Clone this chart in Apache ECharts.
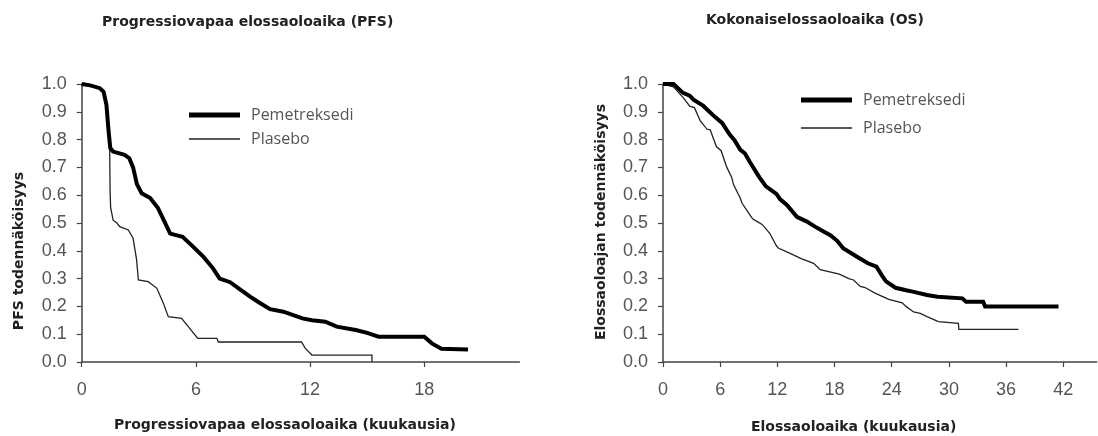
<!DOCTYPE html>
<html>
<head>
<meta charset="utf-8">
<script src="https://cdn.jsdelivr.net/npm/echarts@6/dist/echarts.min.js"></script>
<style>html,body{margin:0;padding:0;background:#fff;}#c{width:1098px;height:436px;}</style>
</head>
<body>
<div id="c"></div>
<script>
// ---- Data (months, survival probability) ----
const pfsPemetreksedi = [[0,1.0],[0.45,0.995],[0.95,0.985],[1.15,0.972],[1.3,0.925],[1.4,0.84],[1.5,0.77],[1.65,0.757],[2.25,0.745],[2.5,0.733],[2.7,0.70],[2.9,0.64],[3.15,0.607],[3.6,0.59],[4.0,0.555],[4.35,0.505],[4.65,0.462],[5.3,0.45],[5.85,0.415],[6.4,0.378],[6.9,0.337],[7.25,0.30],[7.8,0.287],[8.3,0.262],[8.85,0.235],[9.3,0.215],[9.9,0.19],[10.6,0.181],[11.6,0.157],[12.1,0.150],[12.8,0.145],[13.4,0.127],[14.4,0.115],[15.0,0.105],[15.6,0.091],[18.0,0.091],[18.4,0.067],[18.9,0.048],[20.3,0.045]];
const pfsPlasebo = [[0,1.0],[0.45,0.995],[0.95,0.985],[1.15,0.972],[1.3,0.925],[1.4,0.84],[1.47,0.77],[1.49,0.62],[1.52,0.556],[1.65,0.51],[1.85,0.50],[2.0,0.487],[2.45,0.475],[2.7,0.445],[2.88,0.37],[2.98,0.295],[3.5,0.289],[3.95,0.265],[4.3,0.21],[4.55,0.163],[5.25,0.157],[5.6,0.127],[6.1,0.085],[7.1,0.085],[7.18,0.072],[11.55,0.072],[11.75,0.049],[12.1,0.025],[15.25,0.025],[15.25,0.0]];
const osPemetreksedi = [[0,1.0],[1.1,1.0],[2.1,0.968],[2.8,0.958],[3.2,0.944],[4.2,0.922],[5.5,0.88],[6.2,0.86],[7.0,0.818],[7.5,0.798],[8.1,0.764],[8.6,0.75],[9.1,0.72],[10.1,0.665],[10.8,0.632],[11.9,0.605],[12.3,0.585],[13.0,0.565],[14.05,0.522],[15.1,0.505],[15.95,0.487],[16.8,0.47],[17.6,0.455],[18.3,0.435],[18.9,0.409],[20.4,0.378],[21.5,0.355],[22.4,0.343],[23.0,0.31],[23.4,0.29],[24.4,0.267],[25.5,0.258],[26.2,0.253],[27.7,0.241],[28.8,0.235],[31.4,0.229],[31.8,0.217],[33.6,0.217],[33.8,0.2],[41.5,0.2]];
const osPlasebo = [[0,1.0],[1.1,0.99],[2.1,0.952],[2.8,0.92],[3.3,0.915],[3.9,0.868],[4.6,0.838],[4.95,0.835],[5.6,0.775],[6.1,0.76],[6.7,0.70],[7.2,0.665],[7.4,0.638],[8.1,0.59],[8.3,0.571],[9.1,0.53],[9.4,0.515],[9.85,0.506],[10.4,0.495],[11.2,0.463],[11.9,0.418],[12.1,0.41],[13.4,0.39],[14.5,0.372],[15.8,0.355],[16.5,0.332],[18.5,0.316],[19.5,0.30],[20.0,0.295],[20.7,0.272],[21.2,0.268],[22.3,0.247],[23.7,0.225],[25.1,0.213],[25.5,0.2],[26.3,0.18],[27.0,0.175],[27.7,0.163],[28.9,0.145],[31.0,0.139],[31.05,0.117],[37.3,0.117]];

const pfsTicks = [0, 6, 12, 18];
const osTicks = [0, 6, 12, 18, 24, 30, 36, 42];
const seriesNames = ['Pemetreksedi', 'Plasebo'];
const titles = ['Progressiovapaa elossaoloaika (PFS)', 'Kokonaiselossaoloaika (OS)'];
const xNames = ['Progressiovapaa elossaoloaika (kuukausia)', 'Elossaoloaika (kuukausia)'];
const yNames = ['PFS todennäköisyys', 'Elossaoloajan todennäköisyys'];

// ---- Styling ----
const axisColor = '#444';
const labelStyle = {color: '#555', fontFamily: 'Liberation Sans', fontSize: 18};
const titleFont = {fontFamily: 'DejaVu Sans', fontWeight: 'bold', fontSize: 14, fill: '#222'};

function xAxis(gi, max, ticks) {
  return {
    type: 'value', gridIndex: gi, min: 0, max: max,
    splitLine: {show: false},
    axisLine: {lineStyle: {color: axisColor, width: 1.5}},
    axisTick: {length: 5, lineStyle: {color: axisColor, width: 1.2}, customValues: ticks},
    axisLabel: Object.assign({margin: 19, customValues: ticks}, labelStyle)
  };
}
function yAxis(gi) {
  return {
    type: 'value', gridIndex: gi, min: 0, max: 1, interval: 0.1,
    splitLine: {show: false},
    axisLine: {show: true, lineStyle: {color: axisColor, width: 1.5}},
    axisTick: {show: true, length: 5, lineStyle: {color: axisColor, width: 1.2}},
    axisLabel: Object.assign({margin: 15, formatter: v => v.toFixed(1)}, labelStyle)
  };
}
function line(name, data, gi, thick) {
  return {
    name: name, type: 'line', xAxisIndex: gi, yAxisIndex: gi, data: data,
    symbol: 'none', silent: true,
    lineStyle: {color: thick ? '#000' : '#222', width: thick ? 4 : 1.3, join: 'miter'},
    itemStyle: {color: thick ? '#000' : '#222'}
  };
}
function legend(left, top, gap) {
  return {
    left: left, top: top, orient: 'vertical', itemWidth: 51, itemHeight: 14, itemGap: gap,
    selectedMode: false, symbolKeepAspect: true,
    textStyle: {fontFamily: 'Open Sans', fontSize: 16, color: '#555', padding: [0, 0, 0, 6]},
    data: [
      {name: seriesNames[0], icon: 'path://M0,0H51V5H0Z', itemStyle: {color: '#000'}},
      {name: seriesNames[1], icon: 'path://M0,0H51V1.4H0Z', itemStyle: {color: '#222'}}
    ]
  };
}

const chart = echarts.init(document.getElementById('c'), null, {renderer: 'canvas'});
chart.setOption({
  animation: false,
  backgroundColor: '#fff',
  grid: [
    {left: 81.7, top: 84, width: 437.7, height: 278},
    {left: 663, top: 84, width: 433.6, height: 278}
  ],
  xAxis: [xAxis(0, 23, pfsTicks), xAxis(1, 45.5, osTicks)],
  yAxis: [yAxis(0), yAxis(1)],
  legend: [legend(184, 102, 8), legend(796, 87, 12)],
  series: [
    line(seriesNames[1], pfsPlasebo, 0, false),
    line(seriesNames[0], pfsPemetreksedi, 0, true),
    line(seriesNames[1], osPlasebo, 1, false),
    line(seriesNames[0], osPemetreksedi, 1, true)
  ],
  graphic: [
    {type: 'text', x: 247.7, y: 22, style: Object.assign({text: titles[0], align: 'center', verticalAlign: 'middle'}, titleFont)},
    {type: 'text', x: 815, y: 20, style: Object.assign({text: titles[1], align: 'center', verticalAlign: 'middle'}, titleFont)},
    {type: 'text', x: 285, y: 425, style: Object.assign({text: xNames[0], align: 'center', verticalAlign: 'middle'}, titleFont)},
    {type: 'text', x: 853.6, y: 427, style: Object.assign({text: xNames[1], align: 'center', verticalAlign: 'middle'}, titleFont)},
    {type: 'text', x: 19, y: 251, rotation: Math.PI / 2, style: Object.assign({text: yNames[0], align: 'center', verticalAlign: 'middle'}, titleFont)},
    {type: 'text', x: 601.5, y: 222, rotation: Math.PI / 2, style: Object.assign({text: yNames[1], align: 'center', verticalAlign: 'middle'}, titleFont)}
  ]
});
</script>
</body>
</html>
